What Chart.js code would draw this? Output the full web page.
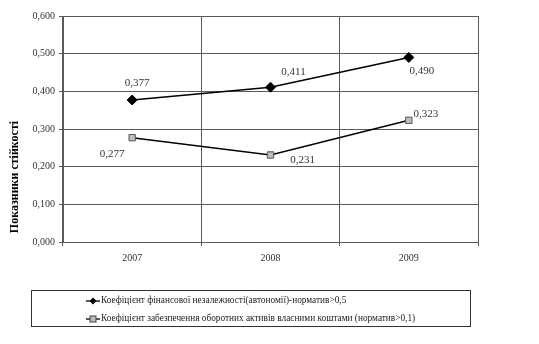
<!DOCTYPE html>
<html><head><meta charset="utf-8">
<script src="https://cdn.jsdelivr.net/npm/chart.js@4/dist/chart.umd.min.js"></script>
<style>html,body{margin:0;padding:0;background:#fff}#w{width:539px;height:344px;position:relative}</style>
</head><body><div id="w"><canvas id="c"></canvas></div>
<script>
const categories = ['2007', '2008', '2009'];
const seriesAutonomy = [0.377, 0.411, 0.490];
const seriesWorkingCapital = [0.277, 0.231, 0.323];
const seriesNames = [
  'Коефіцієнт фінансової незалежності(автономії)-норматив>0,5',
  'Коефіцієнт забезпечення оборотних активів власними коштами (норматив>0,1)'
];
const yTicks = [0, 0.1, 0.2, 0.3, 0.4, 0.5, 0.6];
const yTitle = 'Показники стійкості';

const fmt = v => v.toFixed(3).replace('.', ',');
const labelOffsets = [
  [[5, -17], [23, -15], [13, 14]],
  [[-20, 16], [32, 5], [17, -6]]
];
const SERIF = '"Liberation Serif", "Times New Roman", serif';

const labelsPlugin = {
  id: 'labels',
  afterDatasetsDraw(chart) {
    const ctx = chart.ctx;
    ctx.save();
    ctx.font = '11px ' + SERIF;
    ctx.fillStyle = '#333';
    ctx.textAlign = 'center';
    ctx.textBaseline = 'middle';
    chart.data.datasets.forEach((ds, i) => {
      chart.getDatasetMeta(i).data.forEach((pt, j) => {
        const o = labelOffsets[i][j];
        ctx.fillText(fmt(ds.data[j]), pt.x + o[0], pt.y + o[1]);
      });
    });
    ctx.translate(15, 177);
    ctx.rotate(-Math.PI / 2);
    ctx.font = 'bold 12px ' + SERIF;
    ctx.fillStyle = '#000';
    ctx.fillText(yTitle, 0, 0);
    ctx.restore();
  },
  afterDraw(chart) {
    const ctx = chart.ctx;
    ctx.save();
    ctx.strokeStyle = '#333';
    ctx.lineWidth = 1;
    ctx.strokeRect(31.5, 290.5, 439, 36);
    ctx.font = '9.3px ' + SERIF;
    ctx.textBaseline = 'middle';
    ctx.textAlign = 'left';
    chart.data.datasets.forEach((ds, i) => {
      const y = 301 + i * 18;
      const x0 = 86;
      ctx.strokeStyle = '#000';
      ctx.lineWidth = 1.3;
      ctx.beginPath(); ctx.moveTo(x0, y); ctx.lineTo(x0 + 14, y); ctx.stroke();
      const cx = x0 + 7;
      if (i === 0) {
        ctx.fillStyle = '#000';
        ctx.beginPath(); ctx.moveTo(cx, y - 3.5); ctx.lineTo(cx + 3.5, y); ctx.lineTo(cx, y + 3.5); ctx.lineTo(cx - 3.5, y); ctx.closePath(); ctx.fill();
      } else {
        ctx.fillStyle = '#bbb';
        ctx.fillRect(cx - 3, y - 3, 6, 6);
        ctx.lineWidth = 1;
        ctx.strokeStyle = '#444';
        ctx.strokeRect(cx - 3, y - 3, 6, 6);
      }
      ctx.fillStyle = '#222';
      ctx.fillText(ds.label, x0 + 15, y);
    });
    ctx.restore();
  }
};

new Chart(document.getElementById('c'), {
  type: 'line',
  data: {
    labels: categories,
    datasets: [
      { label: seriesNames[0], data: seriesAutonomy, borderColor: '#000', borderWidth: 1.5,
        pointStyle: 'rectRot', pointRadius: 5, pointBackgroundColor: '#000', pointBorderColor: '#000', pointBorderWidth: 1 },
      { label: seriesNames[1], data: seriesWorkingCapital, borderColor: '#000', borderWidth: 1.5,
        pointStyle: 'rect', pointRadius: 4.5, pointBackgroundColor: '#bdbdbd', pointBorderColor: '#555', pointBorderWidth: 1 }
    ]
  },
  options: {
    responsive: true, maintainAspectRatio: false, animation: false,
    layout: { padding: { top: 16, right: 61, left: 0, bottom: 0 } },
    plugins: { legend: { display: false }, tooltip: { enabled: false } },
    scales: {
      x: {
        offset: true,
        grid: { offset: true, color: '#5a5a5a', lineWidth: 1, tickLength: 4, drawTicks: true },
        border: { color: '#5a5a5a' },
        ticks: { color: '#333', font: { family: SERIF, size: 10 }, padding: 6, maxRotation: 0 },
        afterFit(s) { s.height = 102; }
      },
      y: {
        min: 0, max: 0.6,
        afterBuildTicks(s) { s.ticks = yTicks.map(v => ({ value: v })); },
        grid: { color: '#5a5a5a', lineWidth: 1, tickLength: 4 },
        border: { color: '#5a5a5a' },
        ticks: { color: '#333', font: { family: SERIF, size: 10 }, padding: 4, callback: v => fmt(v) },
        afterFit(s) { s.width = 63; }
      }
    }
  },
  plugins: [labelsPlugin]
});
</script></body></html>
